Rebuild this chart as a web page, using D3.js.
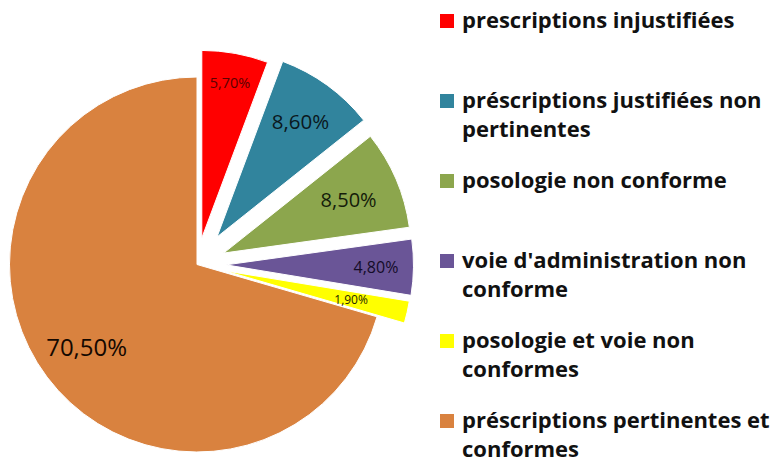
<!DOCTYPE html>
<html>
<head>
<meta charset="utf-8">
<script src="https://cdn.jsdelivr.net/npm/d3@7"></script>
<style>
  body { margin: 0; background: #fff; }
  svg { display: block; }
</style>
</head>
<body>
<script>
// data
const categories = [
  "prescriptions injustifiées",
  "préscriptions justifiées non pertinentes",
  "posologie non conforme",
  "voie d'administration non conforme",
  "posologie et voie non conformes",
  "préscriptions pertinentes et conformes"
];
const values = [5.7, 8.6, 8.5, 4.8, 1.9, 70.5];
const labels = ["5,70%", "8,60%", "8,50%", "4,80%", "1,90%", "70,50%"];
// legend lines (wrapped as in the original)
const legendLines = [
  ["prescriptions injustifiées"],
  ["préscriptions justifiées non", "pertinentes"],
  ["posologie non conforme"],
  ["voie d'administration non", "conforme"],
  ["posologie et voie non", "conformes"],
  ["préscriptions pertinentes et", "conformes"]
];

// style
const colors = ["#ff0000", "#31849d", "#8ca64d", "#6a5597", "#ffff00", "#d9823f"];
const explode = [27, 34, 29, 29, 28, 0];
const labelRadius = [158, 142, 136, 150, 130, 138];
const labelSize = [14.5, 20.5, 20, 16, 12, 24];
const labelColor = ["#5a0000", "#0a1820", "#141c0a", "#140c28", "#262600", "#140800"];

const width = 780, height = 464;
const cx = 197, cy = 264.5, radius = 187.5;

const svg = d3.select("body").append("svg")
    .attr("width", width)
    .attr("height", height);

const pie = d3.pie().sort(null).value(d => d);
const arcs = pie(values);
const arc = d3.arc().innerRadius(0).outerRadius(radius);

const g = svg.append("g").attr("transform", `translate(${cx}, ${cy})`);

const slices = g.selectAll(".slice")
    .data(arcs)
  .enter().append("g")
    .attr("class", "slice")
    .attr("transform", (d, i) => {
      const mid = (d.startAngle + d.endAngle) / 2;
      return `translate(${explode[i] * Math.sin(mid)}, ${-explode[i] * Math.cos(mid)})`;
    });

slices.append("path")
    .attr("d", arc)
    .attr("fill", (d, i) => colors[i])
    .attr("stroke", "#fff")
    .attr("stroke-width", 1);

slices.append("text")
    .attr("x", (d, i) => labelRadius[i] * Math.sin((d.startAngle + d.endAngle) / 2))
    .attr("y", (d, i) => -labelRadius[i] * Math.cos((d.startAngle + d.endAngle) / 2))
    .attr("dy", "0.36em")
    .attr("text-anchor", "middle")
    .attr("font-family", "'Open Sans', sans-serif")
    .attr("font-size", (d, i) => labelSize[i])
    .attr("fill", (d, i) => labelColor[i])
    .text((d, i) => labels[i]);

// legend
const legendY = d3.scalePoint()
    .domain(categories)
    .range([28, 428]);

const legend = svg.append("g")
    .attr("transform", "translate(440, 0)");

const items = legend.selectAll(".item")
    .data(categories)
  .enter().append("g")
    .attr("class", "item")
    .attr("transform", d => `translate(0, ${legendY(d)})`);

items.append("rect")
    .attr("x", 0)
    .attr("y", -14)
    .attr("width", 14)
    .attr("height", 14)
    .attr("fill", (d, i) => colors[i]);

items.append("text")
    .attr("x", 22)
    .attr("font-family", "'Open Sans', sans-serif")
    .attr("font-weight", "bold")
    .attr("font-size", 22)
    .attr("fill", "#111")
  .selectAll("tspan")
    .data((d, i) => legendLines[i])
  .enter().append("tspan")
    .attr("x", 22)
    .attr("y", (d, j) => j * 29)
    .text(d => d);
</script>
</body>
</html>
